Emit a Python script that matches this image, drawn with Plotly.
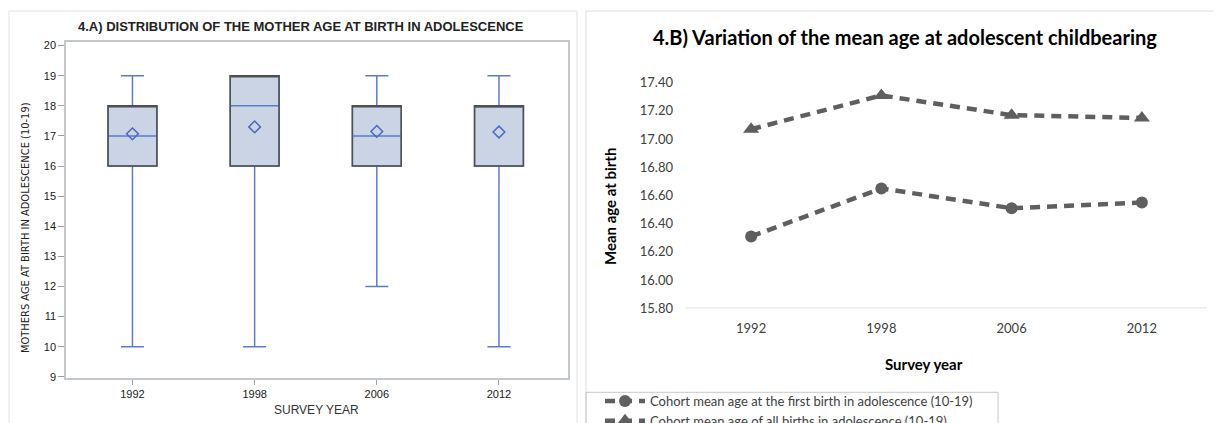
import plotly.graph_objects as go

W, H = 1221, 423
OFF = 8  # the page body adds an 8px margin; shift layout positions to compensate

# ---------------- data ----------------
YEARS = ["1992", "1998", "2006", "2012"]

# Panel A: box plot summary (mother age at birth in adolescence)
BOX_LOW = [10, 10, 12, 10]
BOX_Q1 = [16, 16, 16, 16]
BOX_MEDIAN = [17, 18, 17, 18]
BOX_Q3 = [18, 19, 18, 18]
BOX_UP = [19, 19, 19, 19]
BOX_MEAN = [17.07, 17.30, 17.15, 17.13]

# Panel B: mean age at adolescent childbearing
SERIES_FIRST_NAME = "Cohort mean age at the first birth in adolescence (10-19)"
SERIES_FIRST = [16.31, 16.65, 16.51, 16.55]
SERIES_ALL_NAME = "Cohort mean age of all births in adolescence (10-19)"
SERIES_ALL = [17.07, 17.31, 17.17, 17.15]

Y_TICKS_A = list(range(9, 21))
Y_TICKS_B = [15.8, 16.0, 16.2, 16.4, 16.6, 16.8, 17.0, 17.2, 17.4]


def px(x):
    return (x - OFF) / W


def py(y):
    return 1 - (y - OFF) / H


BLUE = "#5b7bcc"
BLUE_D = "#4a69c0"
FILL = "#cad4e5"
GRAY_OUT = "#505050"
LINE_B = "#5f5f5f"
FONT_A = "Liberation Sans, Arial, sans-serif"
FONT_A_N = "Liberation Sans Narrow, DejaVu Sans Condensed, Liberation Sans, sans-serif"
FONT_B = "Lato, Carlito, Calibri, sans-serif"

fig = go.Figure()

# ---- panel A ----
# blue box: fill, whiskers, median
fig.add_trace(go.Box(
    x=YEARS, q1=BOX_Q1, median=BOX_MEDIAN, q3=BOX_Q3,
    lowerfence=BOX_LOW, upperfence=BOX_UP,
    width=0.4, whiskerwidth=0.47, fillcolor=FILL,
    line=dict(color=BLUE, width=1.5), boxpoints=False,
    xaxis="x", yaxis="y", showlegend=False, hoverinfo="skip",
))
# gray outline of the interquartile box
fig.add_trace(go.Box(
    x=YEARS, q1=BOX_Q1, median=BOX_Q3, q3=BOX_Q3,
    lowerfence=BOX_Q1, upperfence=BOX_Q3,
    width=0.4, whiskerwidth=0, fillcolor="rgba(0,0,0,0)",
    line=dict(color=GRAY_OUT, width=1.5), boxpoints=False,
    xaxis="x", yaxis="y", showlegend=False, hoverinfo="skip",
))
fig.add_trace(go.Scatter(
    x=YEARS, y=BOX_MEAN, mode="markers",
    marker=dict(symbol="diamond-open", size=9, color=BLUE_D, line=dict(width=1.5, color=BLUE_D)),
    xaxis="x", yaxis="y", showlegend=False, hoverinfo="skip",
))

# ---- panel B ----
fig.add_trace(go.Scatter(
    x=YEARS, y=SERIES_FIRST, mode="lines+markers", name=SERIES_FIRST_NAME,
    line=dict(color=LINE_B, width=4.5, dash="10px,7px"),
    marker=dict(symbol="circle", size=12, color=LINE_B),
    xaxis="x2", yaxis="y2",
))
fig.add_trace(go.Scatter(
    x=YEARS, y=SERIES_ALL, mode="lines+markers", name=SERIES_ALL_NAME,
    line=dict(color=LINE_B, width=4.5, dash="10px,7px"),
    marker=dict(symbol="triangle-up", size=14, color=LINE_B),
    xaxis="x2", yaxis="y2",
))

shapes = [
    # outer frames
    dict(type="rect", xref="paper", yref="paper", x0=px(9), x1=px(577), y0=py(440), y1=py(11),
         line=dict(color="#e2e2e2", width=1), fillcolor="rgba(0,0,0,0)", layer="below"),
    dict(type="rect", xref="paper", yref="paper", x0=px(586), x1=px(1240), y0=py(440), y1=py(11),
         line=dict(color="#dcdcdc", width=1), fillcolor="rgba(0,0,0,0)", layer="below"),
    # legend frame
    dict(type="rect", xref="paper", yref="paper", x0=px(586), x1=px(998), y0=py(440), y1=py(392.3),
         line=dict(color="#c8c8c8", width=1), fillcolor="rgba(0,0,0,0)", layer="below"),
    # baseline of panel B
    dict(type="line", xref="x2 domain", yref="y2", x0=0, x1=1, y0=15.8, y1=15.8,
         line=dict(color="#d9d9d9", width=1.5)),
]

annotations = [
    dict(text="<b>4.A) DISTRIBUTION OF THE MOTHER AGE AT BIRTH IN ADOLESCENCE</b>",
         x=px(301), y=py(27), xref="paper", yref="paper", showarrow=False,
         font=dict(family=FONT_A, size=13, color="#222222"), xanchor="center", yanchor="middle"),
    dict(text="MOTHERS AGE AT BIRTH IN ADOLESCENCE (10-19)",
         x=px(25), y=py(228), xref="paper", yref="paper", showarrow=False, textangle=-90,
         font=dict(family=FONT_A_N, size=11, color="#222222"), xanchor="center", yanchor="middle"),
    dict(text="SURVEY YEAR",
         x=px(316), y=py(410), xref="paper", yref="paper", showarrow=False,
         font=dict(family=FONT_A, size=12, color="#333333"), xanchor="center", yanchor="middle"),
    dict(text="<b>4.B) Variation of the mean age at adolescent childbearing</b>",
         x=px(905), y=py(37), xref="paper", yref="paper", showarrow=False,
         font=dict(family=FONT_B, size=20, color="#000000"), xanchor="center", yanchor="middle"),
    dict(text="<b>Mean age at birth</b>",
         x=px(610), y=py(207), xref="paper", yref="paper", showarrow=False, textangle=-90,
         font=dict(family=FONT_B, size=15, color="#000000"), xanchor="center", yanchor="middle"),
    dict(text="<b>Survey year</b>",
         x=px(924), y=py(364), xref="paper", yref="paper", showarrow=False,
         font=dict(family=FONT_B, size=15, color="#000000"), xanchor="center", yanchor="middle"),
]

fig.update_layout(
    width=W, height=H,
    margin=dict(l=0, r=0, t=0, b=0, autoexpand=False),
    paper_bgcolor="white", plot_bgcolor="white",
    showlegend=True,
    boxmode="overlay",
    shapes=shapes, annotations=annotations,
    xaxis=dict(
        domain=[px(66), px(568)], type="category", categoryorder="array", categoryarray=YEARS,
        range=[-0.544, 3.565], showline=True, linecolor="#c3c8cd", linewidth=1.5, mirror=True,
        ticks="outside", ticklen=5, tickcolor="#9aa0a6", showgrid=False, zeroline=False,
        tickfont=dict(family=FONT_A, size=11, color="#1a1a1a"), anchor="y",
    ),
    yaxis=dict(
        domain=[py(378.3), py(42)], range=[8.95, 20.12], tickvals=Y_TICKS_A,
        showline=True, linecolor="#c3c8cd", linewidth=1.5, mirror=True,
        ticks="outside", ticklen=6, tickcolor="#9aa0a6", showgrid=False, zeroline=False,
        tickfont=dict(family=FONT_A, size=11, color="#1a1a1a"), anchor="x",
    ),
    xaxis2=dict(
        domain=[px(686), px(1207)], type="category", categoryorder="array", categoryarray=YEARS,
        range=[-0.5, 3.5], showline=False, showgrid=False, zeroline=False, ticks="",
        ticklabelstandoff=11,
        tickfont=dict(family=FONT_B, size=13, color="#404040"), anchor="y2",
    ),
    yaxis2=dict(
        domain=[py(308.3), py(82.7)], range=[15.8, 17.4], tickvals=Y_TICKS_B, tickformat=".2f",
        showline=False, showgrid=False, zeroline=False, ticks="", ticklabelstandoff=12,
        tickfont=dict(family=FONT_B, size=13, color="#404040"), anchor="x2",
    ),
    legend=dict(
        x=px(600), y=py(386), xanchor="left", yanchor="top", xref="paper", yref="paper",
        borderwidth=0, bgcolor="rgba(0,0,0,0)",
        font=dict(family=FONT_B, size=13, color="#404040"),
        tracegroupgap=0, itemwidth=40,
    ),
)

fig.write_html("out.html")
